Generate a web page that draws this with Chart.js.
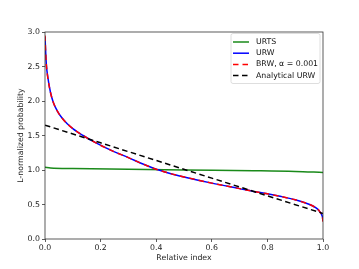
<!DOCTYPE html>
<html>
<head>
<meta charset="utf-8">
<script src="https://cdn.jsdelivr.net/npm/chart.js@4.4.1/dist/chart.umd.min.js"></script>
<style>
  html, body { margin: 0; padding: 0; background: #fff; }
  #wrap { width: 359px; height: 269px; }
</style>
</head>
<body>
<div id="wrap"><canvas id="chart" width="359" height="269"></canvas></div>
<script>
// values
const urwX = [0.0, 0.002, 0.005, 0.01, 0.02, 0.03, 0.045, 0.06, 0.08, 0.1, 0.137, 0.18, 0.246, 0.3, 0.35, 0.4, 0.45, 0.5, 0.6, 0.7, 0.75, 0.8, 0.85, 0.9, 0.935, 0.96, 0.975, 0.985, 0.993, 0.998, 1.0];
const urwY = [2.93, 2.75, 2.52, 2.35, 2.12, 1.98, 1.85, 1.76, 1.67, 1.6, 1.5, 1.4, 1.27, 1.18, 1.09, 1.01, 0.95, 0.9, 0.81, 0.73, 0.69, 0.655, 0.615, 0.568, 0.525, 0.485, 0.45, 0.415, 0.37, 0.32, 0.26];
const brwY = [2.95, 2.74, 2.52, 2.34, 2.12, 1.98, 1.85, 1.76, 1.67, 1.6, 1.5, 1.4, 1.27, 1.18, 1.09, 1.01, 0.95, 0.9, 0.81, 0.73, 0.69, 0.655, 0.615, 0.568, 0.525, 0.485, 0.45, 0.415, 0.37, 0.32, 0.25];

const urtsX = [0.0, 0.02, 0.1, 0.3, 0.5, 0.75, 0.9, 1.0];
const urtsY = [1.04, 1.03, 1.02, 1.01, 1.0, 0.99, 0.98, 0.965];

const analyticX = [0.0, 0.2, 0.4, 0.6, 0.8, 1.0];
const analyticY = [1.65, 1.394, 1.138, 0.882, 0.626, 0.37];

const seriesNames = ["URTS", "URW", "BRW, \u03b1 = 0.001", "Analytical URW"];

const xTicks = [0.0, 0.2, 0.4, 0.6, 0.8, 1.0];
const yTicks = [0.0, 0.5, 1.0, 1.5, 2.0, 2.5, 3.0];

function pts(xs, ys){
    return xs.map((x,i)=>({x:x, y:ys[i]}));
}

const FONT = "DejaVu Sans";
const FS = 7.8;

//------------------------
// legend box + frame
//------------------------
const framePlugin = {
    id: "frame",
    afterDatasetsDraw(chart){
        const ctx = chart.ctx;
        const a = chart.chartArea;
        ctx.save();
        ctx.strokeStyle = "#333";
        ctx.lineWidth = 0.8;
        ctx.strokeRect(a.left, a.top, a.right - a.left, a.bottom - a.top);
        ctx.restore();
    },
    afterDraw(chart){
        const ctx = chart.ctx;
        const bx = 231, by = 33.5, bw = 89, bh = 50;
        ctx.save();
        ctx.fillStyle = "rgba(255,255,255,0.8)";
        ctx.strokeStyle = "#d6d6d6";
        ctx.lineWidth = 0.8;
        ctx.beginPath();
        ctx.roundRect(bx, by, bw, bh, 2);
        ctx.fill();
        ctx.stroke();

        ctx.font = FS + "px '" + FONT + "'";
        ctx.textBaseline = "middle";
        ctx.fillStyle = "#111";
        chart.data.datasets.forEach((ds, i)=>{
            const yy = 42 + i * 11.2;
            ctx.strokeStyle = ds.borderColor;
            ctx.lineWidth = ds.borderWidth;
            ctx.setLineDash(ds.borderDash || []);
            ctx.beginPath();
            ctx.moveTo(233, yy);
            ctx.lineTo(249, yy);
            ctx.stroke();
            ctx.setLineDash([]);
            ctx.fillText(ds.label, 256, yy);
        });
        ctx.restore();
    }
};

new Chart(document.getElementById("chart"), {
    type: "line",
    data: {
        datasets: [
            {
                label: seriesNames[0],
                data: pts(urtsX, urtsY),
                borderColor: "#1a8a1a",
                borderWidth: 1.5,
                pointRadius: 0,
                order: 3,
                cubicInterpolationMode: "monotone"
            },
            {
                label: seriesNames[1],
                data: pts(urwX, urwY),
                borderColor: "#0000ff",
                borderWidth: 1.5,
                pointRadius: 0,
                order: 2,
                cubicInterpolationMode: "monotone"
            },
            {
                label: seriesNames[2],
                data: pts(urwX, brwY),
                borderColor: "#ff0000",
                borderWidth: 1.5,
                borderDash: [5.5, 4],
                pointRadius: 0,
                order: 1,
                cubicInterpolationMode: "monotone"
            },
            {
                label: seriesNames[3],
                data: pts(analyticX, analyticY),
                borderColor: "#000000",
                borderWidth: 1.5,
                borderDash: [5.5, 3.5],
                pointRadius: 0,
                order: 0
            }
        ]
    },
    options: {
        responsive: false,
        animation: false,
        devicePixelRatio: 1,
        layout: { padding: { left: 0, right: 36, top: 32, bottom: 0 } },
        plugins: {
            legend: { display: false },
            tooltip: { enabled: false }
        },
        scales: {
            x: {
                type: "linear",
                min: 0,
                max: 1,
                afterBuildTicks: (s)=>{ s.ticks = xTicks.map(v=>({value:v})); },
                afterFit: (s)=>{ s.height = 30; },
                grid: { display: true, drawOnChartArea: false, tickLength: 3, tickColor: "#333", lineWidth: 0.8 },
                border: { display: false },
                ticks: {
                    color: "#222",
                    padding: 1,
                    maxRotation: 0,
                    font: { family: FONT, size: FS },
                    callback: (v)=>v.toFixed(1)
                },
                title: {
                    display: true,
                    text: "Relative index",
                    color: "#222",
                    font: { family: FONT, size: FS },
                    padding: { top: 0, bottom: 6.3 }
                }
            },
            y: {
                type: "linear",
                min: 0,
                max: 3,
                afterBuildTicks: (s)=>{ s.ticks = yTicks.map(v=>({value:v})); },
                afterFit: (s)=>{ s.width = 45; },
                grid: { display: true, drawOnChartArea: false, tickLength: 3, tickColor: "#333", lineWidth: 0.8 },
                border: { display: false },
                ticks: {
                    color: "#222",
                    padding: 2,
                    font: { family: FONT, size: FS },
                    callback: (v)=>v.toFixed(1)
                },
                title: {
                    display: true,
                    text: "L-normalized probability",
                    color: "#222",
                    font: { family: FONT, size: FS },
                    padding: { top: 15.8, bottom: 0 }
                }
            }
        }
    },
    plugins: [framePlugin]
});
</script>
</body>
</html>
